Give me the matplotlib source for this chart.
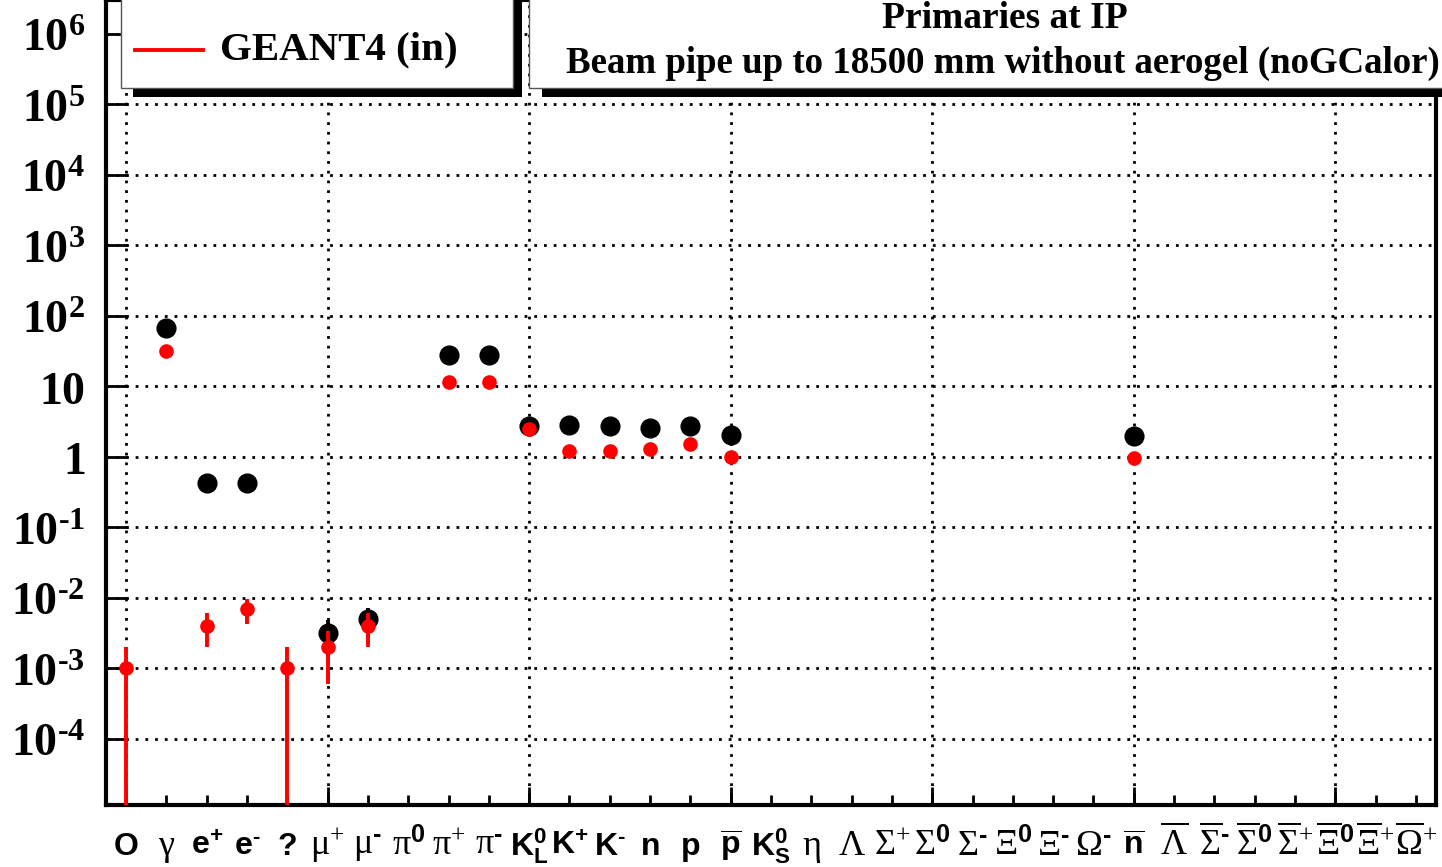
import numpy as np
import matplotlib
matplotlib.use('Agg')
import matplotlib.pyplot as plt
from matplotlib.patches import Rectangle
from matplotlib.lines import Line2D

plt.rcParams['mathtext.fontset'] = 'custom'
plt.rcParams['mathtext.rm'] = 'Liberation Serif'
plt.rcParams['mathtext.bf'] = 'Liberation Serif:bold'
plt.rcParams['mathtext.sf'] = 'Liberation Sans:bold'
plt.rcParams['mathtext.it'] = 'Liberation Serif'

# particle categories (one bin each), hyphen U+2010 used for the short minus
labels = [r'$\mathsf{O}$', r'$\mathrm{γ}$', r'$\mathsf{e^{+}}$', r'$\mathsf{e^{‐}}$', r'$\mathsf{?}$',
          r'$\mathrm{μ}^{+}$', r'$\mathrm{μ}^{\mathsf{‐}}$', r'$\mathrm{π}^{\mathsf{0}}$',
          r'$\mathrm{π}^{+}$', r'$\mathrm{π}^{\mathsf{‐}}$', r'$\mathsf{K^{0}_{L}}$', r'$\mathsf{K^{+}}$',
          r'$\mathsf{K^{‐}}$', r'$\mathsf{n}$', r'$\mathsf{p}$', r'$\overline{\mathsf{p}}$',
          r'$\mathsf{K^{0}_{S}}$', r'$\mathrm{η}$', r'$\mathrm{Λ}$', r'$\mathrm{Σ}^{+}$',
          r'$\mathrm{Σ}^{\mathsf{0}}$', r'$\mathrm{Σ}^{\mathsf{‐}}$', r'$\mathrm{Ξ}^{\mathsf{0}}$',
          r'$\mathrm{Ξ}^{\mathsf{‐}}$', r'$\mathrm{Ω}^{\mathsf{‐}}$', r'$\overline{\mathsf{n}}$',
          r'$\overline{\mathrm{Λ}}$', r'$\overline{\mathrm{Σ}}^{\mathsf{‐}}$',
          r'$\overline{\mathrm{Σ}}^{\mathsf{0}}$', r'$\overline{\mathrm{Σ}}^{+}$',
          r'$\overline{\mathrm{Ξ}}^{\mathsf{0}}$', r'$\overline{\mathrm{Ξ}}^{+}$',
          r'$\overline{\mathrm{Ω}}^{+}$']
nan = np.nan

# black markers (reference)
black_val = [nan, 66, 0.42, 0.42, nan, 0.0032, 0.005, nan, 28, 28, 2.7, 2.8, 2.7, 2.55, 2.7, 2.03,
             nan, nan, nan, nan, nan, nan, nan, nan, nan, 1.95, nan, nan, nan, nan, nan, nan, nan]
black_err = [0, 0, 0, 0, 0, 0.0017, 0.0022, 0, 0, 0, 0, 0, 0, 0, 0, 0,
             0, 0, 0, 0, 0, 0, 0, 0, 0, 0, 0, 0, 0, 0, 0, 0, 0]

# red markers, GEANT4 (in)
red_val = [0.001, 32, 0.004, 0.007, 0.001, 0.002, 0.004, nan, 11.5, 11.5, 2.45, 1.2, 1.2, 1.3, 1.5, 1.0,
           nan, nan, nan, nan, nan, nan, nan, nan, nan, 0.96, nan, nan, nan, nan, nan, nan, nan]
red_err = [0.001, 0, 0.002, 0.0027, 0.001, 0.0014, 0.002, 0, 0, 0, 0, 0, 0, 0, 0, 0,
           0, 0, 0, 0, 0, 0, 0, 0, 0, 0, 0, 0, 0, 0, 0, 0, 0]

ytick_vals = [1e-4, 1e-3, 1e-2, 1e-1, 1, 10, 1e2, 1e3, 1e4, 1e5, 1e6]
ytick_labels = [r'$\mathbf{10^{‐4}}$', r'$\mathbf{10^{‐3}}$', r'$\mathbf{10^{‐2}}$', r'$\mathbf{10^{‐1}}$',
                r'$\mathbf{1}$', r'$\mathbf{10}$', r'$\mathbf{10^{2}}$', r'$\mathbf{10^{3}}$',
                r'$\mathbf{10^{4}}$', r'$\mathbf{10^{5}}$', r'$\mathbf{10^{6}}$']

W, H = 1442, 867
fig = plt.figure(figsize=(W/100, H/100), dpi=100, facecolor='white')
ax = fig.add_axes([106/W, 1 - 805/H, (1436-106)/W, 805/H])

x = np.arange(len(labels))
ax.errorbar(x, black_val, yerr=black_err, fmt='o', color='black', ms=13.5, elinewidth=2.8,
            capsize=0, zorder=3)
ax.errorbar(x, red_val, yerr=red_err, fmt='o', color='red', ms=9.5, elinewidth=2.8,
            capsize=0, zorder=4)

ax.set_yscale('log', nonpositive='clip')
ax.set_ylim(10**(-4.94), 10**(6.478))
ax.set_xlim(-0.5, len(labels) - 0.5)

ax.set_yticks(ytick_vals)
ax.set_yticklabels(ytick_labels, fontsize=33)
ax.yaxis.set_minor_locator(matplotlib.ticker.LogLocator(base=10, subs=np.arange(2, 10)))
ax.yaxis.set_minor_formatter(matplotlib.ticker.NullFormatter())
ax.tick_params(axis='y', which='major', direction='in', length=16, width=2, pad=15)
ax.tick_params(axis='y', which='minor', direction='in', length=9, width=2)

ax.xaxis.remove_overlapping_locs = False
ax.set_xticks(x[::5])
ax.set_xticklabels([])
ax.set_xticks(x, minor=True)
ax.set_xticklabels(labels, minor=True, fontsize=23)
for t in ax.get_xticklabels(minor=True):
    t.set_verticalalignment('baseline')
    if 'mathrm' in t.get_text():
        t.set_fontsize(26)
ax.tick_params(axis='x', which='major', direction='in', length=13, width=2)
ax.tick_params(axis='x', which='minor', direction='in', length=7, width=2, pad=36)

ax.grid(True, which='major', color='black', linestyle=(0, (1, 2.5)), linewidth=2)
for s in ax.spines.values():
    s.set_linewidth(3)

# legend box with shadow
def box(x0, y0, x1, y1, **kw):
    fig.add_artist(Rectangle((x0/W, 1 - y1/H), (x1-x0)/W, (y1-y0)/H,
                             transform=fig.transFigure, **kw))

box(133, -20, 522, 97, facecolor='black', edgecolor='none', zorder=5)
box(121, -20, 513, 88, facecolor='white', edgecolor='#555555', linewidth=1, zorder=6)
fig.add_artist(Line2D([135/W, 203/W], [1 - 50/H, 1 - 50/H], color='red', lw=2.8,
                      transform=fig.transFigure, zorder=7))
fig.text(220/W, 1 - 50/H, 'GEANT4 (in)', fontsize=29.5, fontweight='bold', family='Liberation Serif',
         va='center', ha='left', zorder=7)

# title box with shadow
box(542, -20, 1470, 97, facecolor='black', edgecolor='none', zorder=5)
box(529, -20, 1460, 88, facecolor='white', edgecolor='#555555', linewidth=1, zorder=6)
fig.text(1005/W, 1 - 19/H, 'Primaries at IP', fontsize=27, fontweight='bold',
         family='Liberation Serif', va='center', ha='center', zorder=7)
fig.text(1003/W, 1 - 63/H, 'Beam pipe up to 18500 mm without aerogel (noGCalor)', fontsize=26.6,
         fontweight='bold', family='Liberation Serif', va='center', ha='center', zorder=7)

fig.savefig('out.png', dpi=100, facecolor='white')
